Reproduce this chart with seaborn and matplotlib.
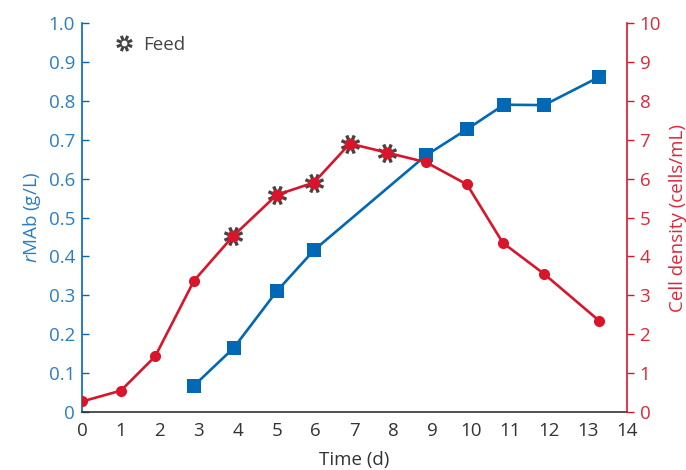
import matplotlib
matplotlib.use('Agg')
import matplotlib.pyplot as plt
import seaborn as sns
import pandas as pd
import numpy as np
from matplotlib.lines import Line2D
from matplotlib.path import Path

# data
mab_days = [2.88, 3.9, 5.0, 5.96, 8.84, 9.89, 10.84, 11.87, 13.28]
mab_conc = [0.068, 0.165, 0.31, 0.416, 0.66, 0.727, 0.79, 0.789, 0.861]

cell_days = [0.0, 1.0, 1.88, 2.88, 3.88, 5.0, 5.96, 6.88, 7.83, 8.84, 9.89, 10.81, 11.87, 13.28]
cell_dens = [0.27, 0.55, 1.43, 3.38, 4.52, 5.58, 5.9, 6.9, 6.67, 6.42, 5.85, 4.35, 3.55, 2.35]

feed_days = [3.88, 5.0, 5.96, 6.88, 7.83]
feed_dens = [4.52, 5.58, 5.9, 6.9, 6.67]

x_ticks = list(range(0, 15))
left_ticks = [0, 0.1, 0.2, 0.3, 0.4, 0.5, 0.6, 0.7, 0.8, 0.9, 1.0]
left_labels = ['0', '0.1', '0.2', '0.3', '0.4', '0.5', '0.6', '0.7', '0.8', '0.9', '1.0']
right_ticks = list(range(0, 11))

BLUE = '#0068b5'
BLUE_TXT = '#2a7fc1'
RED = '#d9152b'
RED_TXT = '#e0263b'
GREY = '#444444'
FS = 13.5

# spinner-like feed symbol: 8 short spokes not touching the centre
verts, codes = [], []
for a in np.arange(8) * np.pi / 4 + np.pi / 8:
    verts += [(0.35 * np.cos(a), 0.35 * np.sin(a)), (np.cos(a), np.sin(a))]
    codes += [Path.MOVETO, Path.LINETO]
spinner = Path(verts, codes)

sns.set_style('white')
plt.rcParams['font.family'] = ['Open Sans', 'DejaVu Sans']
plt.rcParams['mathtext.fontset'] = 'custom'
plt.rcParams['mathtext.it'] = 'Open Sans:italic'
plt.rcParams['mathtext.rm'] = 'Open Sans'

fig = plt.figure(figsize=(6.86, 4.70), dpi=100)
ax = fig.add_axes([0.1195, 0.1234, 0.7945, 0.8276])
ax2 = ax.twinx()

mab_df = pd.DataFrame({'day': mab_days, 'conc': mab_conc})
cell_df = pd.DataFrame({'day': cell_days, 'dens': cell_dens})
feed_df = pd.DataFrame({'day': feed_days, 'dens': feed_dens})

sns.lineplot(data=mab_df, x='day', y='conc', ax=ax, color=BLUE, lw=1.9,
             marker='s', markersize=9.5, markeredgewidth=0, zorder=3)
sns.lineplot(data=cell_df, x='day', y='dens', ax=ax2, color=RED, lw=1.9,
             marker='o', markersize=8, markeredgewidth=0, zorder=3)
# feed markers: grey spokes behind the red dot
ax2.plot(feed_df['day'], feed_df['dens'], ls='none', marker=spinner,
         markersize=13, markeredgewidth=2.4, color=GREY, zorder=2.5)
ax2.plot(feed_df['day'], feed_df['dens'], ls='none', marker='o',
         markersize=8.5, markeredgewidth=0, color=RED, zorder=4)

ax.set_xlim(0, 14)
ax.set_ylim(0, 1.0)
ax2.set_ylim(0, 10)
ax.set_xticks(x_ticks)
ax.set_yticks(left_ticks)
ax.set_yticklabels(left_labels)
ax2.set_yticks(right_ticks)

ax.set_xlabel('Time (d)', fontsize=FS, color='#333333', labelpad=8)
ax.set_ylabel(r'$\it{r}$MAb (g/L)', fontsize=FS, color=BLUE_TXT, labelpad=4)
ax2.set_ylabel('Cell density (cells/mL)', fontsize=FS, color=RED_TXT, labelpad=6)

ax.spines['top'].set_visible(False)
ax2.spines['top'].set_visible(False)
ax.spines['right'].set_visible(False)
ax2.spines['left'].set_visible(False)
ax2.spines['bottom'].set_visible(False)
ax.spines['left'].set_color(BLUE)
ax.spines['bottom'].set_color('#333333')
ax2.spines['right'].set_color(RED)
for sp in [ax.spines['left'], ax.spines['bottom'], ax2.spines['right']]:
    sp.set_linewidth(1.2)

ax.tick_params(axis='x', direction='inout', length=6, width=1, colors='#333333',
               labelsize=FS, labelcolor='#333333', pad=4)
ax.tick_params(axis='y', direction='in', length=5, width=1, colors=BLUE,
               labelsize=FS, labelcolor=BLUE_TXT, pad=5)
ax2.tick_params(axis='y', direction='out', length=5, width=1, colors=RED,
                labelsize=FS, labelcolor=RED_TXT, pad=4)

handle = Line2D([], [], ls='none', marker=spinner, markersize=11,
                markeredgewidth=2.2, color=GREY)
ax2.legend([handle], ['Feed'], loc='upper left', bbox_to_anchor=(0.02, 1.01),
           frameon=False, fontsize=FS, handletextpad=0.3, handlelength=1.5,
           labelcolor='#444444')

fig.savefig('out.png', dpi=100)
